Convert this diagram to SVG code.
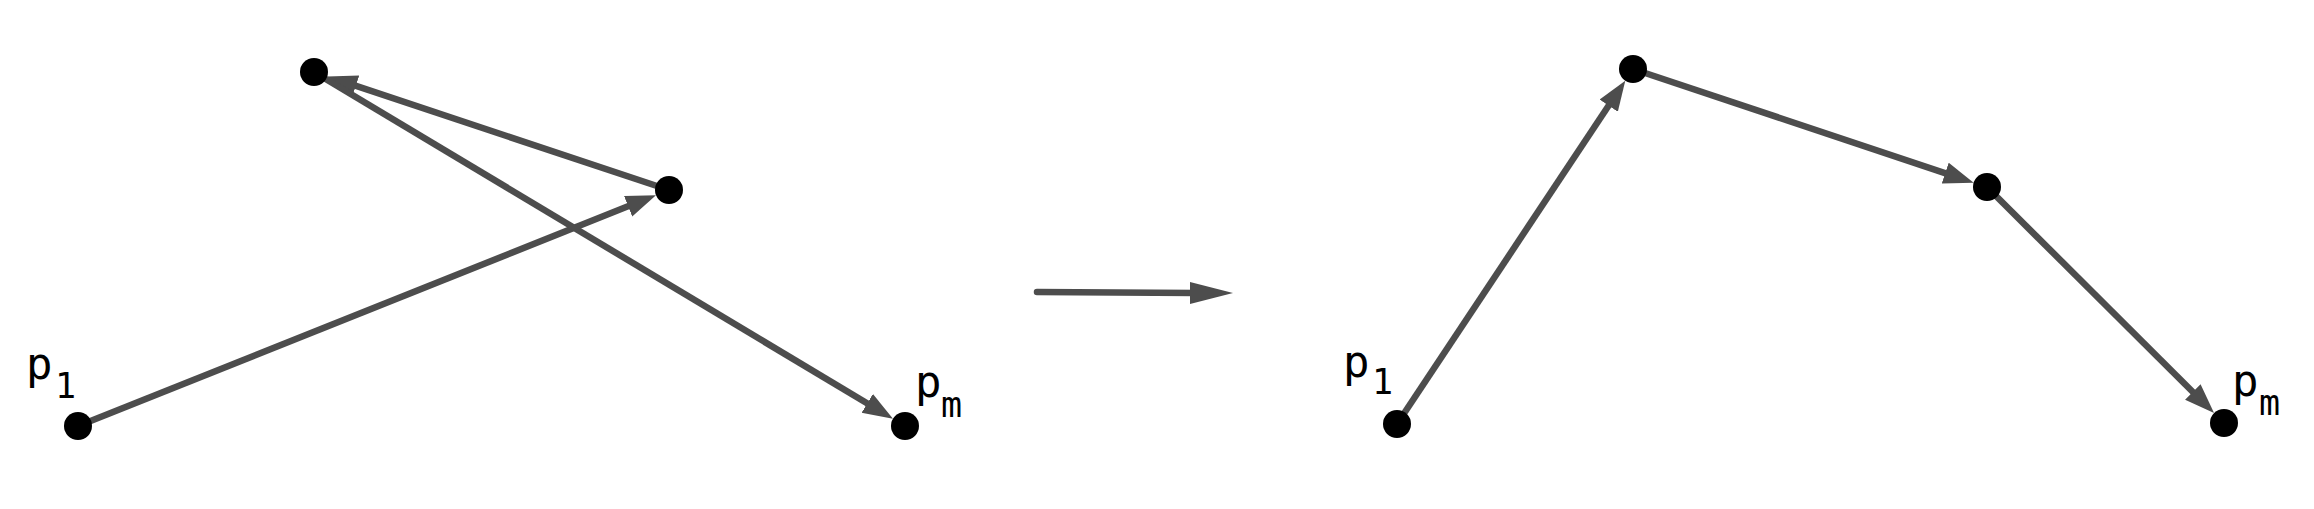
<svg xmlns="http://www.w3.org/2000/svg" width="2314" height="509" viewBox="0 0 2314 509">
<style>
.e{stroke:#4d4d4d;stroke-width:6.5;fill:none;marker-end:url(#ah)}
.n{fill:#000}
.l{font-family:"DejaVu Sans Mono",monospace;font-size:44px;fill:#000}
.s{font-size:35px}
</style>
<defs>
<marker id="ah" markerUnits="userSpaceOnUse" markerWidth="32" markerHeight="24" viewBox="0 0 32 24" refX="10" refY="11" orient="auto">
<path d="M0,0 L30,11 L0,22 z" fill="#4d4d4d"/>
</marker>
</defs>
<rect width="2314" height="509" fill="#fff"/>
<g id="connectors">
<line class="e" x1="78" y1="426" x2="637.4" y2="202.6"/>
<line class="e" x1="669" y1="190" x2="346.3" y2="82.7"/>
<line class="e" x1="314" y1="72" x2="875.8" y2="408.5"/>
<line class="e" x1="1397" y1="424" x2="1614.2" y2="97.3"/>
<line class="e" x1="1633" y1="69" x2="1954.7" y2="176.3"/>
<line class="e" x1="1987" y1="187" x2="2199.9" y2="399.0"/>
<g id="transform-arrow">
<line x1="1037" y1="292" x2="1195" y2="293" stroke="#4d4d4d" stroke-width="6.5" stroke-linecap="round"/>
<polygon points="1190,282 1233,293 1190,304" fill="#4d4d4d"/>
</g>
</g>
<g id="L-p1"><circle class="n" cx="78" cy="426" r="14"/><text class="l" x="26" y="379">p<tspan class="s" x="55" y="398">1</tspan></text></g>
<g id="L-pm"><circle class="n" cx="905" cy="426" r="14"/><text class="l" x="915" y="397">p<tspan class="s" x="941" y="417">m</tspan></text></g>
<g id="L-top"><circle class="n" cx="314" cy="72" r="14"/></g>
<g id="L-mid"><circle class="n" cx="669" cy="190" r="14"/></g>
<g id="R-p1"><circle class="n" cx="1397" cy="424" r="14"/><text class="l" x="1343" y="377">p<tspan class="s" x="1372" y="394">1</tspan></text></g>
<g id="R-top"><circle class="n" cx="1633" cy="69" r="14"/></g>
<g id="R-mid"><circle class="n" cx="1987" cy="187" r="14"/></g>
<g id="R-pm"><circle class="n" cx="2224" cy="423" r="14"/><text class="l" x="2232" y="396">p<tspan class="s" x="2259" y="415">m</tspan></text></g>
</svg>
